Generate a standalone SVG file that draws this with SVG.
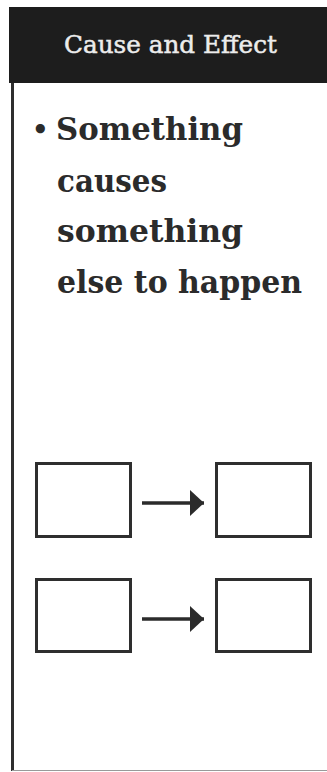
<svg xmlns="http://www.w3.org/2000/svg" width="327" height="772" viewBox="0 0 327 772">
  <style>
    .title { font-family: "DejaVu Serif", "Liberation Serif", serif; font-size: 25px; fill: #ececec; stroke: #ececec; stroke-width: 0.5; }
    .body { font-family: "DejaVu Serif", "Liberation Serif", serif; font-size: 31px; font-weight: bold; fill: #2b2b2b; }
    .box { fill: #ffffff; stroke: #2e2e2e; stroke-width: 3; }
    .conn { stroke: #2b2b2b; stroke-width: 3.5; fill: none; }
  </style>
  <defs>
    <marker id="arrow" markerUnits="userSpaceOnUse" markerWidth="16" markerHeight="26" refX="14" refY="13" orient="auto">
      <polygon points="0,0 14,13 0,26" fill="#2b2b2b"/>
    </marker>
  </defs>
  <rect x="0" y="0" width="327" height="772" fill="#ffffff"/>
  <g id="frame">
    <rect x="9" y="7" width="318" height="76" fill="#1d1d1d"/>
    <line x1="12.5" y1="83" x2="12.5" y2="771" stroke="#2e2e2e" stroke-width="3"/>
    <line x1="12" y1="770.5" x2="327" y2="770.5" stroke="#9a9a9a" stroke-width="1"/>
  </g>
  <g id="header">
    <text class="title" x="64" y="53" textLength="213" lengthAdjust="spacingAndGlyphs">Cause and Effect</text>
  </g>
  <g id="bullet">
    <text class="body"><tspan x="32" y="138" font-size="26px">•</tspan><tspan x="56" y="140" textLength="187" lengthAdjust="spacingAndGlyphs">Something</tspan><tspan x="57" y="192" textLength="110" lengthAdjust="spacingAndGlyphs">causes</tspan><tspan x="57" y="242" textLength="186" lengthAdjust="spacingAndGlyphs">something</tspan><tspan x="57" y="293" textLength="245" lengthAdjust="spacingAndGlyphs">else to happen</tspan></text>
  </g>
  <g id="cause1"><rect class="box" x="36.5" y="463.5" width="94" height="73"/></g>
  <g id="effect1"><rect class="box" x="216.5" y="463.5" width="94" height="73"/></g>
  <g id="cause2"><rect class="box" x="36.5" y="579.5" width="94" height="72"/></g>
  <g id="effect2"><rect class="box" x="216.5" y="579.5" width="94" height="72"/></g>
  <g id="connectors">
    <line class="conn" x1="142" y1="503" x2="204" y2="503" marker-end="url(#arrow)"/>
    <line class="conn" x1="142" y1="619" x2="204" y2="619" marker-end="url(#arrow)"/>
  </g>
</svg>
